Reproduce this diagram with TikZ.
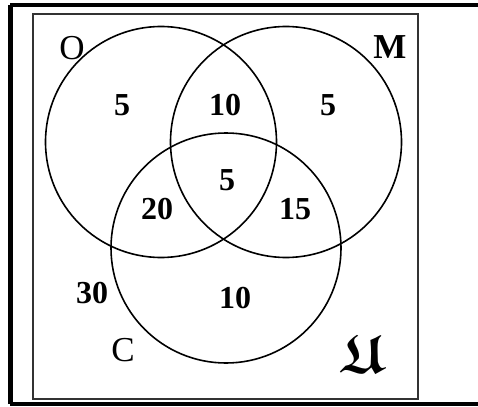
\documentclass[tikz,border=0pt]{standalone}
\usepackage{amsmath,amssymb}
\usepackage{fontspec}
\setmainfont{Liberation Serif}
\begin{document}
\begin{tikzpicture}[x=1pt,y=-1pt,
  setcircle/.style={draw=black,line width=1.6pt},
  numlabel/.style={font=\fontsize{32}{32}\selectfont\bfseries,inner sep=0pt},
  setlabel/.style={font=\fontsize{35}{35}\selectfont,inner sep=0pt}]
\useasboundingbox (0,0) rectangle (478,406);
\fill[white] (0,0) rectangle (478,406);
% outer frame
\draw[line width=4pt] (10,5.5) coordinate (tl) -- (478,5.5) coordinate (tr);
\draw[line width=4pt] (10,404) coordinate (bl) -- (478,404) coordinate (br);
\draw[line width=5pt] (tl) -- (bl);
% universe box
\draw[line width=2pt,draw=black!80] (32.5,14.5) rectangle (417.5,398.5);
% circles
\node[setcircle,circle,minimum size=231pt,inner sep=0pt] (O) at (161,142) {};
\node[setcircle,circle,minimum size=231pt,inner sep=0pt] (M) at (286,142) {};
\node[setcircle,circle,minimum size=230pt,inner sep=0pt] (C) at (226,248) {};
% set labels
\node[setlabel] (lO) at (72,48) {O};
\node[setlabel,font=\fontsize{35}{35}\selectfont\bfseries] (lM) at (390,47) {M};
\node[setlabel] (lC) at (123,350) {C};
\node[inner sep=0pt] (lU) at (362,354) {\scalebox{5.4}{$\boldsymbol{\mathfrak{U}}$}};
% region counts
\node[numlabel] (n1) at (122,105) {5};
\node[numlabel] (n2) at (225,105) {10};
\node[numlabel] (n3) at (328,105) {5};
\node[numlabel] (n4) at (227,180) {5};
\node[numlabel] (n5) at (157,209) {20};
\node[numlabel] (n6) at (295,209) {15};
\node[numlabel] (n7) at (92,293) {30};
\node[numlabel] (n8) at (235,298) {10};
\end{tikzpicture}
\end{document}
